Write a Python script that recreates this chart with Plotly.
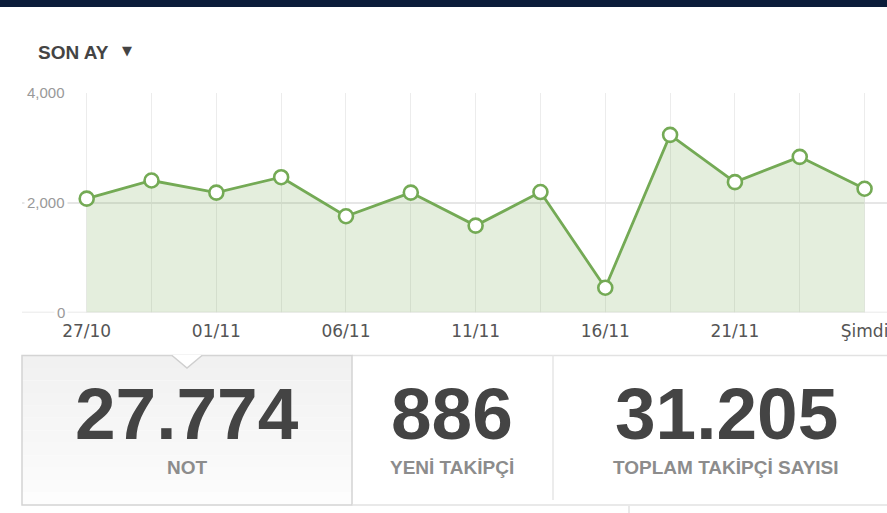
import plotly.graph_objects as go

# ── Data ───────────────────────────────────────────────────────────────────────
point_idx = list(range(13))
notes = [2070, 2400, 2180, 2460, 1750, 2180, 1580, 2190, 450, 3230, 2370, 2830, 2250]
tick_text = ["27/10", "", "01/11", "", "06/11", "", "11/11", "", "16/11", "", "21/11", "", "Şimdi"]
y_ticks = [0, 2000, 4000]

stat_values = ["27.774", "886", "31.205"]
stat_labels = ["NOT", "YENİ TAKİPÇİ", "TOPLAM TAKİPÇİ SAYISI"]
stat_centers = [187, 452, 726]   # px

# ── Helpers (pixel → paper) ────────────────────────────────────────────────────
W, H = 887, 513
def X(px):
    return px / W
def Y(py):
    return 1 - py / H

GREEN = "#74aa55"

fig = go.Figure()
fig.add_trace(go.Scatter(
    x=point_idx, y=notes,
    mode="lines+markers",
    line=dict(color=GREEN, width=2.8),
    marker=dict(size=14, color="white", line=dict(color=GREEN, width=2.6)),
    fill="tozeroy",
    fillcolor="rgba(118,171,86,0.20)",
    cliponaxis=False,
    hoverinfo="skip",
))

# baseline (plotly drops the grid line sitting on the range edge)
fig.add_shape(type="line", xref="paper", yref="y", x0=X(22), x1=1, y0=0, y1=0,
              line=dict(color="#e2e2e2", width=1.5), layer="below")

# y labels with white background (gridline gap like the original)
for v in y_ticks:
    fig.add_annotation(
        text=f"{v:,}", x=X(68), y=v, xref="paper", yref="y",
        xanchor="right", yanchor="middle", showarrow=False,
        bgcolor="white", borderpad=2,
        font=dict(family="Liberation Sans", size=15, color="#999999"),
    )

shapes = []
# top navy strip
shapes.append(dict(type="rect", xref="paper", yref="paper", x0=0, x1=1, y0=Y(7), y1=1,
                   fillcolor="#0b1d3a", line=dict(width=0), layer="above"))

# stat box 1 background (gray gradient in bands)
top, bot = 355.5, 505
n = 12
for i in range(n):
    g = int(0xf1 + (0xfd - 0xf1) * i / (n - 1))
    shapes.append(dict(type="rect", xref="paper", yref="paper",
                       x0=X(22), x1=X(352), y0=Y(top + (bot - top) * (i + 1) / n), y1=Y(top + (bot - top) * i / n),
                       fillcolor=f"rgb({g},{g},{g})", line=dict(width=0), layer="above"))
# borders
shapes.append(dict(type="line", xref="paper", yref="paper", x0=X(352), x1=1, y0=Y(355.5), y1=Y(355.5),
                   line=dict(color="#e2e2e2", width=1.5)))
shapes.append(dict(type="rect", xref="paper", yref="paper", x0=X(22), x1=X(352), y0=Y(bot), y1=Y(top),
                   fillcolor="rgba(0,0,0,0)", line=dict(color="#d4d4d4", width=1.5), layer="above"))
shapes.append(dict(type="line", xref="paper", yref="paper", x0=X(352), x1=1, y0=Y(505), y1=Y(505),
                   line=dict(color="#e2e2e2", width=1.5)))
shapes.append(dict(type="line", xref="paper", yref="paper", x0=X(553), x1=X(553), y0=Y(500), y1=Y(355.5),
                   line=dict(color="#e6e6e6", width=1.5)))
shapes.append(dict(type="line", xref="paper", yref="paper", x0=X(629), x1=X(629), y0=0, y1=Y(506),
                   line=dict(color="#e2e2e2", width=1.5)))
# notch
shapes.append(dict(type="path", xref="paper", yref="paper",
                   path=f"M {X(172)} {Y(355)} L {X(187)} {Y(368)} L {X(202)} {Y(355)} Z",
                   fillcolor="white", line=dict(width=0), layer="above"))
shapes.append(dict(type="path", xref="paper", yref="paper",
                   path=f"M {X(172)} {Y(355.5)} L {X(187)} {Y(368)} L {X(202)} {Y(355.5)}",
                   line=dict(color="#cfcfcf", width=1.5), layer="above"))

for s in shapes:
    fig.add_shape(**s)

# title
fig.add_annotation(text="<b>SON AY</b>", x=X(36), y=Y(52), xref="paper", yref="paper",
                   xanchor="left", yanchor="middle", showarrow=False,
                   font=dict(family="Liberation Sans", size=19, color="#444444"))
fig.add_annotation(text="▼", x=X(127), y=Y(51), xref="paper", yref="paper",
                   xanchor="center", yanchor="middle", showarrow=False,
                   font=dict(family="DejaVu Sans", size=13, color="#444444"))

# stats
for val, lab, cx in zip(stat_values, stat_labels, stat_centers):
    fig.add_annotation(text=f"<b>{val}</b>", x=X(cx), y=Y(413), xref="paper", yref="paper",
                       xanchor="center", yanchor="middle", showarrow=False,
                       font=dict(family="Liberation Sans", size=73, color="#444444"))
    fig.add_annotation(text=f"<b>{lab}</b>", x=X(cx), y=Y(467), xref="paper", yref="paper",
                       xanchor="center", yanchor="middle", showarrow=False,
                       font=dict(family="Liberation Sans", size=19, color="#8c8c8c"))

fig.update_layout(
    width=W, height=H,
    margin=dict(l=0, r=0, t=0, b=0),
    paper_bgcolor="white",
    plot_bgcolor="white",
    showlegend=False,
    xaxis=dict(
        domain=[X(22), 1],
        range=[-0.998, 12.346],
        tickvals=point_idx, ticktext=tick_text,
        showgrid=True, gridcolor="#ececec", gridwidth=1,
        zeroline=False, showline=False, ticks="",
        ticklabelstandoff=6,
        ticklabeloverflow="allow",
        tickfont=dict(family="DejaVu Sans", size=17, color="#555555"),
        fixedrange=True,
    ),
    yaxis=dict(
        domain=[Y(312.5), Y(92.5)],
        range=[0, 4000],
        tickvals=y_ticks, showticklabels=False,
        showgrid=True, gridcolor="#e6e6e6", gridwidth=1.5,
        zeroline=False, showline=False, ticks="",
        fixedrange=True,
    ),
)

fig.write_html(
    "out.html",
    config={"displayModeBar": False},
    post_script="document.body.style.margin='0';document.body.style.overflow='hidden';",
)
